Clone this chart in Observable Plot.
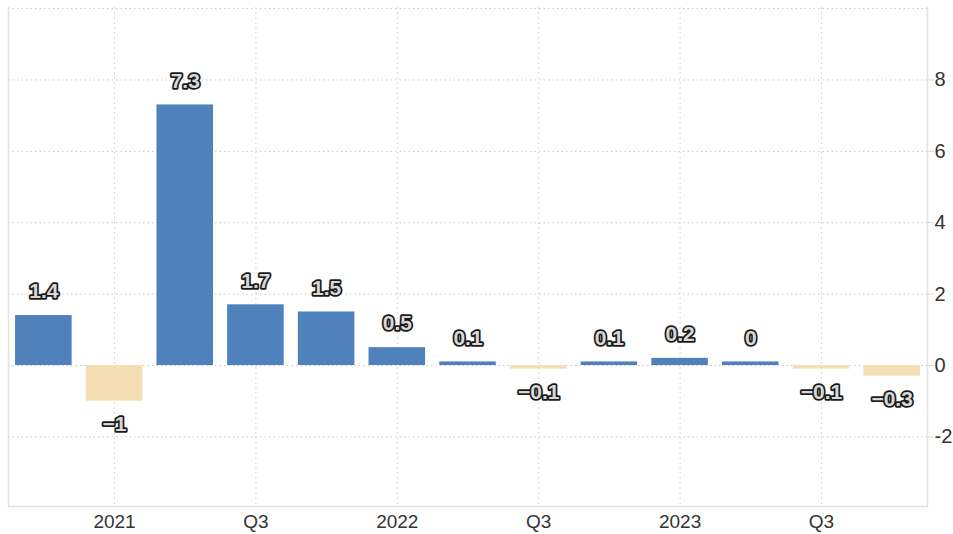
<!DOCTYPE html>
<html>
<head>
<meta charset="utf-8">
<script src="https://cdn.jsdelivr.net/npm/d3@7"></script>
<script src="https://cdn.jsdelivr.net/npm/@observablehq/plot@0.6"></script>
<style>
  html, body { margin: 0; padding: 0; background: #fff; }
  #chart svg { display: block; }
</style>
</head>
<body>
<div id="chart"></div>
<script>
const quarters = ["2020 Q4","2021 Q1","2021 Q2","2021 Q3","2021 Q4","2022 Q1","2022 Q2","2022 Q3","2022 Q4","2023 Q1","2023 Q2","2023 Q3","2023 Q4"];
const values = [1.4, -1, 7.3, 1.7, 1.5, 0.5, 0.1, -0.1, 0.1, 0.2, 0.1, -0.1, -0.3];
const labels = ["1.4", "−1", "7.3", "1.7", "1.5", "0.5", "0.1", "−0.1", "0.1", "0.2", "0", "−0.1", "−0.3"];
const tickQuarters = ["2021 Q1","2021 Q3","2022 Q1","2022 Q3","2023 Q1","2023 Q3"];
const tickLabels = ["2021","Q3","2022","Q3","2023","Q3"];
const yTicks = [-2, 0, 2, 4, 6, 8];
const yGrid = [-2, 0, 2, 4, 6, 8, 10];

const data = quarters.map((q, i) => ({q, value: values[i], label: labels[i]}));
const tickMap = new Map(tickQuarters.map((q, i) => [q, tickLabels[i]]));

const labelStyle = {fill: "#d8d8d8", stroke: "#1a1a1a", strokeWidth: 3.5, fontWeight: "bold", fontSize: 21, letterSpacing: "-1px"};

const chart = Plot.plot({
  width: 953,
  height: 534,
  marginLeft: 8,
  marginRight: 26,
  marginTop: 7,
  marginBottom: 28,
  style: {fontFamily: "'Liberation Sans', Arial, sans-serif", background: "#fff"},
  x: {type: "band", domain: quarters, paddingInner: 0.2, paddingOuter: 0.1, round: false},
  y: {domain: [-3.95, 10.03]},
  marks: [
    Plot.gridY(yGrid, {stroke: "#c8c8c8", strokeOpacity: 1, strokeDasharray: "1.5,3"}),
    Plot.ruleX(tickQuarters, {x: d => d, stroke: "#d8d8d8", strokeDasharray: "2,3"}),
    Plot.ruleY([-3.95], {stroke: "#e2e2e2", strokeWidth: 1.5}),
    Plot.frame({anchor: "left", stroke: "#e2e2e2", strokeWidth: 1.5}),
    Plot.frame({anchor: "right", stroke: "#e2e2e2", strokeWidth: 1.5}),
    Plot.barY(data, {x: "q", y: "value", fill: d => d.value >= 0 ? "#4f81bd" : "#f5deb3"}),
    Plot.text(data.filter(d => d.value >= 0), {x: "q", y: "value", text: "label", dy: -24, ...labelStyle}),
    Plot.text(data.filter(d => d.value < 0), {x: "q", y: "value", text: "label", dy: 23, ...labelStyle}),
    Plot.axisY({anchor: "right", ticks: yTicks, tickSize: 6, tickPadding: 1, tickFormat: d => String(d), stroke: "#d8d8d8", fill: "#333", fontSize: 20, label: null}),
    Plot.axisX({ticks: tickQuarters, tickSize: 0, tickPadding: 8, tickFormat: d => tickMap.get(d), fill: "#333", fontSize: 19, label: null})
  ]
});
document.getElementById("chart").appendChild(chart);
</script>
</body>
</html>
